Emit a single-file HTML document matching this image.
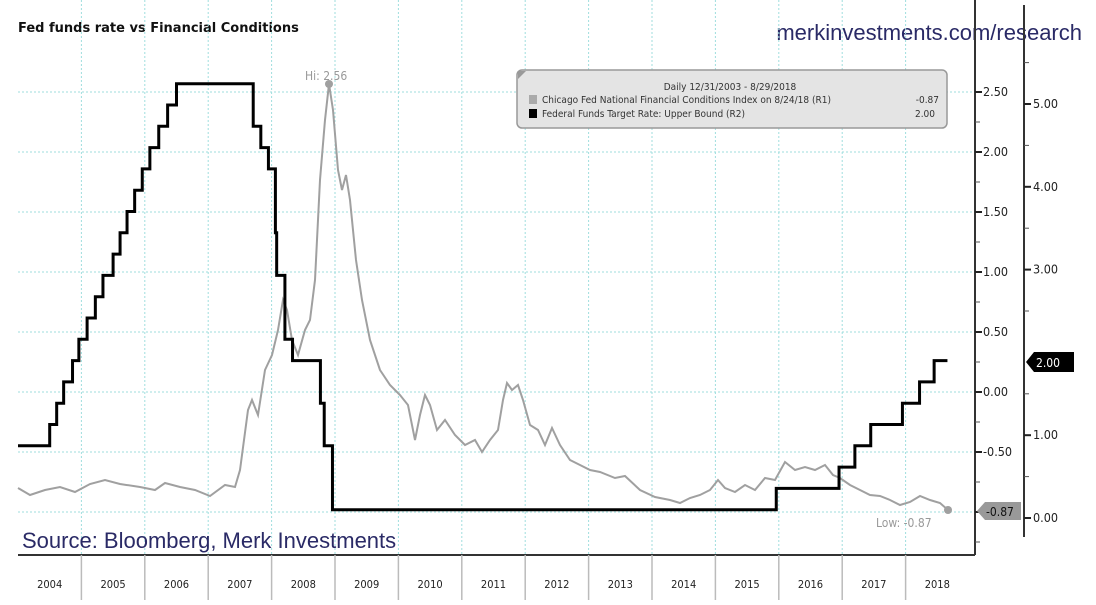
<!DOCTYPE html>
<html><head><meta charset="utf-8"><style>
body{margin:0;background:#fff;width:1096px;height:600px;overflow:hidden;font-family:"Liberation Sans",sans-serif}
</style></head><body>
<svg id="s" width="1096" height="600" xmlns="http://www.w3.org/2000/svg" font-family="DejaVu Sans Condensed, DejaVu Sans, sans-serif">
<rect width="1096" height="600" fill="#fff"/>
<text x="18" y="32" font-family="DejaVu Sans, sans-serif" font-size="13" font-weight="bold" fill="#111">Fed funds rate vs Financial Conditions</text>
<text x="1082" y="40" text-anchor="end" font-family="Liberation Sans" font-size="22" fill="#2a2a66">merkinvestments.com/research</text>
<g id="grid" stroke="#9fdede" stroke-dasharray="2,2" stroke-width="1"></g>
<polyline fill="none" stroke="#a0a0a0" stroke-width="2" points="18,488 30,495 45,490 60,487 75,492 90,484 105,480 120,484 140,487 155,490 165,483 180,487 195,490 210,496 225,485 235,487 240,470 248,410 252,400 258,415 265,370 272,355 278,330 283,300 287,310 292,340 298,355 305,330 310,320 315,280 320,180 325,120 329,84 333,110 338,170 342,190 346,175 350,200 356,260 362,300 370,340 380,370 390,385 400,395 408,405 415,440 420,415 425,395 430,405 437,430 445,420 455,435 465,445 475,440 482,452 490,440 498,430 503,400 507,383 512,390 518,385 523,400 530,425 538,430 545,445 552,428 560,445 570,460 580,465 590,470 600,472 615,478 625,476 640,490 655,497 670,500 680,503 690,498 700,495 710,490 718,480 725,488 735,492 745,485 755,490 765,478 775,480 785,462 795,470 805,467 815,470 825,465 833,475 840,478 850,485 860,490 870,495 880,496 890,500 900,505 910,502 920,496 930,500 940,503 948,510"/>
<circle cx="329" cy="84" r="4" fill="#a0a0a0"/>
<circle cx="948" cy="510" r="4" fill="#a0a0a0"/>
<text x="305" y="80" font-size="12" fill="#999">Hi: 2.56</text>
<text x="876" y="527" font-size="12" fill="#999">Low: -0.87</text>
<path id="ff" fill="none" stroke="#000" stroke-width="3"/>
<line x1="975" y1="0" x2="975" y2="555" stroke="#333" stroke-width="2"/>
<line x1="18" y1="555" x2="975" y2="555" stroke="#333" stroke-width="2"/>
<line x1="1024" y1="5" x2="1024" y2="537" stroke="#333" stroke-width="2"/>
<g id="ax" font-size="12.5" fill="#222"></g>
<text x="22" y="548" font-family="Liberation Sans" font-size="22" fill="#2a2a66">Source: Bloomberg, Merk Investments</text>
<rect x="517" y="70" width="430" height="58" rx="5" fill="#e4e4e4" stroke="#999" stroke-width="1.5"/>
<path d="M518,71 L526,71 L518,79Z" fill="#999"/>
<text x="730" y="90" text-anchor="middle" font-size="10" fill="#333">Daily 12/31/2003 - 8/29/2018</text>
<rect x="529" y="95" width="8" height="9" fill="#aaa"/>
<rect x="529" y="109" width="8" height="9" fill="#000"/>
<text x="542" y="103" font-size="10" fill="#333">Chicago Fed National Financial Conditions Index on 8/24/18 (R1)</text>
<text x="939" y="103" text-anchor="end" font-size="10" fill="#333">-0.87</text>
<text x="542" y="117" font-size="10" fill="#333">Federal Funds Target Rate: Upper Bound (R2)</text>
<text x="935" y="117" text-anchor="end" font-size="10" fill="#333">2.00</text>
<path d="M1026,362 L1034,352 L1074,352 L1074,372 L1034,372Z" fill="#000"/>
<text x="1036" y="367" font-size="12" fill="#fff">2.00</text>
<path d="M977,511 L985,502 L1021,502 L1021,520 L985,520Z" fill="#999"/>
<text x="986" y="516" font-size="12" fill="#111">-0.87</text>
</svg>
<script>
var X=function(t){return 18+(t-2004)*63.4},Y=function(v){return 531-85.2*v};
var ns="http://www.w3.org/2000/svg";
function el(p,n,a,txt){var e=document.createElementNS(ns,n);for(var k in a)e.setAttribute(k,a[k]);if(txt)e.textContent=txt;document.getElementById(p).appendChild(e);return e}
for(var i=1;i<=14;i++){var x=X(2004+i);el('grid','line',{x1:x,y1:0,x2:x,y2:555});el('ax','line',{x1:x,y1:555,x2:x,y2:600,stroke:'#bbb','stroke-width':1.5})}
['2004','2005','2006','2007','2008','2009','2010','2011','2012','2013','2014','2015','2016','2017','2018'].forEach(function(s,i){el('ax','text',{x:X(2004.5+i),y:588,'text-anchor':'middle','font-size':11},s)});
var r1=[[2.5,'2.50'],[2,'2.00'],[1.5,'1.50'],[1,'1.00'],[0.5,'0.50'],[0,'0.00'],[-0.5,'-0.50'],[-1,'-1.00']];
r1.forEach(function(r){var y=392-120*r[0];el('grid','line',{x1:18,y1:y,x2:975,y2:y});el('ax','line',{x1:975,y1:y,x2:982,y2:y,stroke:'#222','stroke-width':2});el('ax','text',{x:983,y:y+4},r[1]);el('ax','line',{x1:975,y1:y+30,x2:980,y2:y+30,stroke:'#555'})});
[[5,'5.00'],[4,'4.00'],[3,'3.00'],[1,'1.00'],[0,'0.00']].forEach(function(r){var y=518-82.8*r[0];el('ax','line',{x1:1024,y1:y,x2:1031,y2:y,stroke:'#222','stroke-width':2});el('ax','text',{x:1033,y:y+4},r[1]);});
for(var v=0.5;v<5.6;v+=1){var y=518-82.8*v;el('ax','line',{x1:1024,y1:y,x2:1029,y2:y,stroke:'#555'})}
var ch=[[2004.5,1.25],[2004.61,1.5],[2004.72,1.75],[2004.86,2],[2004.96,2.25],[2005.09,2.5],[2005.22,2.75],[2005.34,3],[2005.5,3.25],[2005.61,3.5],[2005.72,3.75],[2005.84,4],[2005.96,4.25],[2006.08,4.5],[2006.22,4.75],[2006.36,5],[2006.5,5.25],[2007.71,4.75],[2007.83,4.5],[2007.95,4.25],[2008.06,3.5],[2008.08,3],[2008.21,2.25],[2008.33,2],[2008.77,1.5],[2008.83,1],[2008.96,0.25],[2015.96,0.5],[2016.95,0.75],[2017.2,1],[2017.45,1.25],[2017.95,1.5],[2018.22,1.75],[2018.45,2]];
var d='M18,'+Y(1),cur=1;ch.forEach(function(c){d+=' L'+X(c[0])+','+Y(cur)+' L'+X(c[0])+','+Y(c[1]);cur=c[1]});d+=' L'+X(2018.66)+','+Y(2);
document.getElementById('ff').setAttribute('d',d);
</script>
</body></html>
